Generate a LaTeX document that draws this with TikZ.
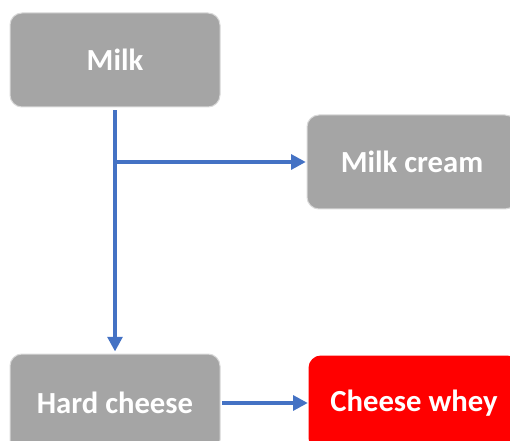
\documentclass[tikz,border=0pt]{standalone}
\usepackage{fontspec}
\setmainfont{Carlito}
\usetikzlibrary{arrows.meta}
\definecolor{boxgrey}{HTML}{A5A5A5}
\definecolor{linkblue}{HTML}{4472C4}
\definecolor{hotred}{HTML}{FF0000}
\tikzset{
  stagebox/.style={draw=white!85!black, line width=0.75pt, rounded corners=9pt,
    minimum width=157.5pt, minimum height=70.5pt, inner sep=0pt,
    text=white, font=\bfseries\fontsize{23}{26}\selectfont},
  link/.style={draw=linkblue, line width=3pt,
    -{Triangle[length=11pt,width=11pt]}}
}
\begin{document}
\begin{tikzpicture}[x=0.75pt,y=-0.75pt]
\useasboundingbox (0,0) rectangle (510,441);
\clip (0,0) rectangle (510,441);
\node[stagebox, fill=boxgrey] (milk) at (115,60) {Milk};
\node[stagebox, fill=boxgrey] (cream) at (412,162) {Milk cream};
\node[stagebox, fill=boxgrey, minimum height=73.5pt] (hard) at (115,403) {Hard cheese};
\node[stagebox, fill=hotred, draw=hotred] (whey) at (414,403) {Cheese whey};
\coordinate (br) at (115,162);
\draw[link, shorten <=2pt, shorten >=1.5pt] (milk.south) -- (hard.north);
\draw[link, shorten >=0.5pt] (br) -- (cream.west);
\draw[link, shorten <=1pt, shorten >=0.5pt] (hard.east) -- (whey.west);
\end{tikzpicture}
\end{document}
